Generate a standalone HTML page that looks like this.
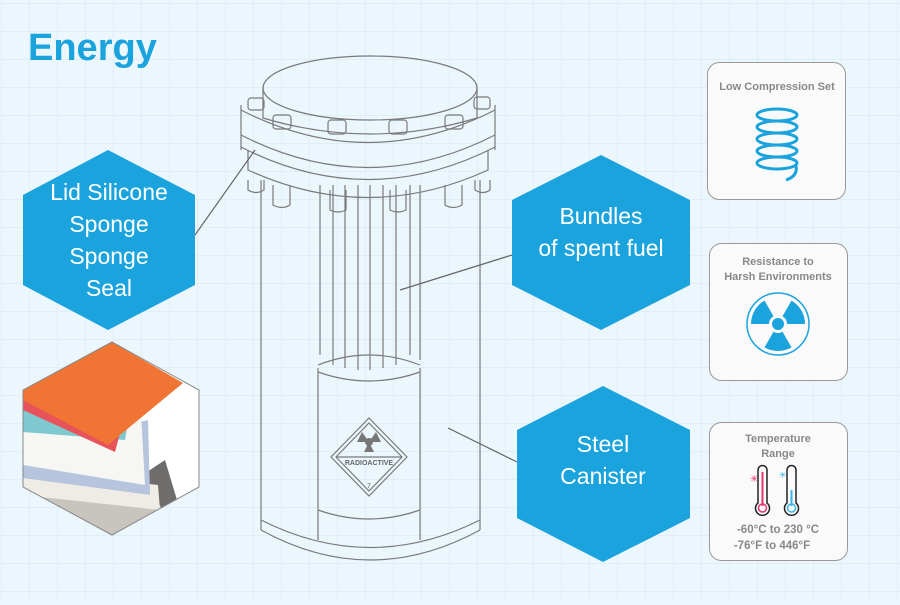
<!DOCTYPE html>
<html><head><style>
body{margin:0;width:900px;height:600px;overflow:hidden;background:#ecf6fd;font-family:"Liberation Sans",sans-serif}
</style></head><body>
<svg width="900" height="600" viewBox="0 0 900 600" xmlns="http://www.w3.org/2000/svg">
<defs>
<pattern id="g" width="28" height="28" patternUnits="userSpaceOnUse" x="2" y="4">
<path d="M28 0V28M0 28H28" stroke="#d9e6ef" stroke-width="1" fill="none"/>
</pattern>
<clipPath id="hc"><polygon points="112,342 199,390 199,487 112,535 23,487 23,390"/></clipPath>
</defs>
<rect width="900" height="600" fill="#ecf6fd"/>
<rect width="900" height="600" fill="url(#g)"/>
<text x="28" y="60" font-size="38" font-weight="bold" fill="#1aa3dd">Energy</text>

<!-- canister -->
<g fill="none" stroke="#7a7a7a" stroke-width="1.2">
<path d="M261 180V530M480 180V530"/>
<path d="M261 520Q370 575 480 520"/>
<path d="M261 530Q370 590 480 530"/>
<path d="M318 368V540M420 368V540"/>
<path d="M318 365Q369 345 420 365M318 372Q369 390 420 372"/>
<path d="M318 510Q369 528 420 510"/>
<path d="M320 185V355M333 185V365M345 185V368M358 185V370M370 185V370M383 185V368M396 185V365M410 185V355M420 185V360"/>
<path d="M248 180V190Q256 195 264 190V180M273 185V205Q282 210 290 205V185M330 190V210Q338 214 346 210V190M390 190V210Q398 214 406 210V190M445 185V205Q453 210 462 205V185M475 180V190Q483 195 490 190V180"/>
<path d="M241 105V135M495 105V135"/>
<path d="M241 110Q368 175 495 110"/>
<path d="M241 135Q368 200 495 135"/>
<path d="M241 147Q368 212 495 147"/>
<path d="M241 135V150M495 135V150"/>
<path d="M248 150V170Q368 225 488 170V150"/>
<ellipse cx="370" cy="88" rx="107" ry="32"/>
<path d="M263 88V118Q370 150 477 118V88"/>
<g>
<rect x="248" y="98" width="16" height="12" rx="3"/><rect x="273" y="115" width="18" height="14" rx="3"/><rect x="328" y="120" width="18" height="14" rx="3"/><rect x="389" y="120" width="18" height="14" rx="3"/><rect x="445" y="115" width="18" height="14" rx="3"/><rect x="474" y="97" width="16" height="12" rx="3"/>
</g>
<path d="M369 418L407 457L369 496L331 457Z"/>
<path d="M369 423L402 457L369 491L336 457Z"/>
<path d="M336 457H402"/>
</g>
<circle cx="369" cy="442" r="4" fill="#777"/>
<path d="M369 442L362 432L357 442Z M369 442L376 432L381 442Z M369 442L364 452L374 452Z" fill="#777"/>
<text x="369" y="465" font-size="7" text-anchor="middle" fill="#666" font-weight="bold">RADIOACTIVE</text>
<text x="369" y="488" font-size="7" text-anchor="middle" fill="#666">7</text>

<g stroke="#666" stroke-width="1.2">
<line x1="195" y1="235" x2="255" y2="150"/>
<line x1="512" y1="255" x2="400" y2="290"/>
<line x1="517" y1="462" x2="448" y2="428"/>
</g>

<polygon points="108,150 195,195 195,285 108,330 23,285 23,195" fill="#1aa3dd"/>
<text fill="#fff" font-size="23" text-anchor="middle"><tspan x="109" y="200">Lid Silicone</tspan><tspan x="109" y="232">Sponge</tspan><tspan x="109" y="264">Sponge</tspan><tspan x="109" y="296">Seal</tspan></text>
<polygon points="601,155 690,200 690,285 601,330 512,285 512,200" fill="#1aa3dd"/>
<text fill="#fff" font-size="23" text-anchor="middle"><tspan x="601" y="224">Bundles</tspan><tspan x="601" y="256">of spent fuel</tspan></text>
<polygon points="603,386 690,430 690,518 603,562 517,518 517,430" fill="#1aa3dd"/>
<text fill="#fff" font-size="23" text-anchor="middle"><tspan x="603" y="452">Steel</tspan><tspan x="603" y="484">Canister</tspan></text>

<!-- photo hex -->
<g clip-path="url(#hc)">
<rect x="20" y="340" width="185" height="200" fill="#fff"/>
<polygon points="150,470 165,460 180,510 140,540 60,540" fill="#6f6d6b"/>
<polygon points="23,485 160,505 165,520 120,540 23,540" fill="#c8c4be"/>
<polygon points="23,470 158,485 160,510 23,495" fill="#efece5"/>
<polygon points="23,450 148,420 150,495 23,478" fill="#b6c4de"/>
<polygon points="23,420 140,395 145,485 23,465" fill="#f6f6f3"/>
<polygon points="23,398 135,380 125,440 23,432" fill="#7ec9cf"/>
<polygon points="23,395 135,375 115,452 23,410" fill="#e8525a"/>
<polygon points="112,342 183,383 108,445 23,400 23,386" fill="#f07434"/>
</g>
<polygon points="112,342 199,390 199,487 112,535 23,487 23,390" fill="none" stroke="#888" stroke-width="1"/>

<g fill="#fafafa" stroke="#999" stroke-width="1">
<rect x="707.5" y="62.5" width="138" height="137" rx="12"/>
<rect x="709.5" y="243.5" width="138" height="137" rx="12"/>
<rect x="709.5" y="422.5" width="138" height="138" rx="12"/>
</g>
<g fill="#888" font-weight="bold" text-anchor="middle">
<text x="777" y="90" font-size="11">Low Compression Set</text>
<text x="778" y="265" font-size="11">Resistance to</text>
<text x="778" y="280" font-size="11">Harsh Environments</text>
<text x="778" y="442" font-size="11">Temperature</text>
<text x="778" y="457" font-size="11">Range</text>
<text x="778" y="533" font-size="11.5">-60°C to 230 °C</text>
<text x="772" y="549" font-size="11.5">-76°F to 446°F</text>
</g>
<g fill="none" stroke="#1aa3dd" stroke-width="3">
<ellipse cx="777" cy="115" rx="20" ry="6"/><ellipse cx="777" cy="127" rx="20" ry="6"/><ellipse cx="777" cy="139" rx="20" ry="6"/><ellipse cx="777" cy="151" rx="20" ry="6"/><ellipse cx="777" cy="163" rx="20" ry="6"/>
<path d="M796 166Q798 176 786 180"/>
</g>
<circle cx="778" cy="324" r="31" fill="none" stroke="#1aa3dd" stroke-width="1.5"/>
<circle cx="778" cy="324" r="6" fill="#1aa3dd"/>
<g fill="#1aa3dd">
<path d="M782.5 331.8 L791.5 347.4 A27 27 0 0 1 764.5 347.4 L773.5 331.8 A9 9 0 0 0 782.5 331.8Z"/>
<path d="M787 324 L805 324 A27 27 0 0 0 791.5 300.6 L782.5 316.2 A9 9 0 0 1 787 324Z"/>
<path d="M769 324 L751 324 A27 27 0 0 1 764.5 300.6 L773.5 316.2 A9 9 0 0 0 769 324Z"/>
</g>
<g fill="none" stroke="#222" stroke-width="1.5">
<path d="M758 470V503A7 7 0 1 0 767 503V470A4.5 4.5 0 0 0 758 470Z"/>
<path d="M787 470V503A7 7 0 1 0 796 503V470A4.5 4.5 0 0 0 787 470Z"/>
</g>
<path d="M762.5 472V506" stroke="#e8336d" stroke-width="2"/><circle cx="762.5" cy="508" r="4" fill="none" stroke="#e8336d" stroke-width="1.5"/>
<path d="M791.5 490V506" stroke="#3ab5e6" stroke-width="2"/><circle cx="791.5" cy="508" r="4" fill="none" stroke="#3ab5e6" stroke-width="1.5"/>
<text x="750" y="482" font-size="10" fill="#e8336d">✳</text>
<text x="779" y="478" font-size="9" fill="#3ab5e6">✳</text>
</svg>
</body></html>
